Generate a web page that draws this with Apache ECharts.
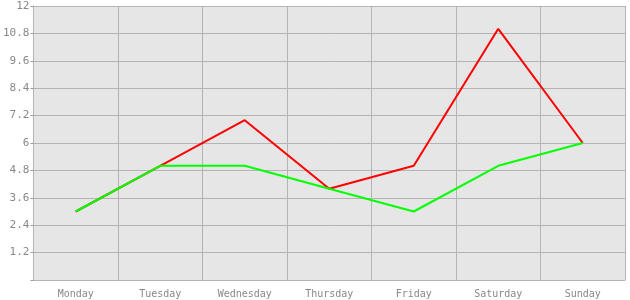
<!DOCTYPE html>
<html><head><meta charset="utf-8">
<script src="https://cdn.jsdelivr.net/npm/echarts@6/dist/echarts.min.js"></script>
<style>html,body{margin:0;padding:0;background:#fff}#c{width:630px;height:300px}</style>
</head><body><div id="c"></div>
<script>
const categories = ['Monday','Tuesday','Wednesday','Thursday','Friday','Saturday','Sunday'];
const redValues = [3, 5, 7, 4, 5, 11, 6];
const greenValues = [3, 5, 5, 4, 3, 5, 6];
const yMin = 0, yMax = 12, yStep = 1.2;

const chart = echarts.init(document.getElementById('c'));
const font = 'DejaVu Sans Mono';
chart.setOption({
  animation: false,
  grid: {left: 32, right: 5, top: 6, bottom: 20, containLabel: false, show: true, backgroundColor: '#e6e6e6', borderWidth: 0},
  xAxis: {
    type: 'category', data: categories, boundaryGap: true,
    axisLine: {lineStyle: {color: '#b4b4b4', width: 1}},
    axisTick: {alignWithLabel: true, length: 4, lineStyle: {color: '#999'}},
    axisLabel: {color: '#888', fontFamily: font, fontSize: 10, margin: 9},
    splitLine: {show: true, lineStyle: {color: '#b4b4b4', width: 1}}
  },
  yAxis: {
    type: 'value', min: yMin, max: yMax, interval: yStep,
    axisLine: {show: true, lineStyle: {color: '#b4b4b4', width: 1}},
    axisTick: {show: true, length: 3, lineStyle: {color: '#999'}},
    axisLabel: {color: '#888', fontFamily: font, fontSize: 11, margin: 4,
      formatter: v => v === 0 ? '' : String(Math.round(v*10)/10)},
    splitLine: {show: true, lineStyle: {color: '#b4b4b4', width: 1}}
  },
  series: [
    {type: 'line', data: redValues, symbol: 'none', lineStyle: {color: '#ff0000', width: 2}, z: 2},
    {type: 'line', data: greenValues, symbol: 'none', lineStyle: {color: '#00ff00', width: 2}, z: 3}
  ]
});
</script></body></html>
